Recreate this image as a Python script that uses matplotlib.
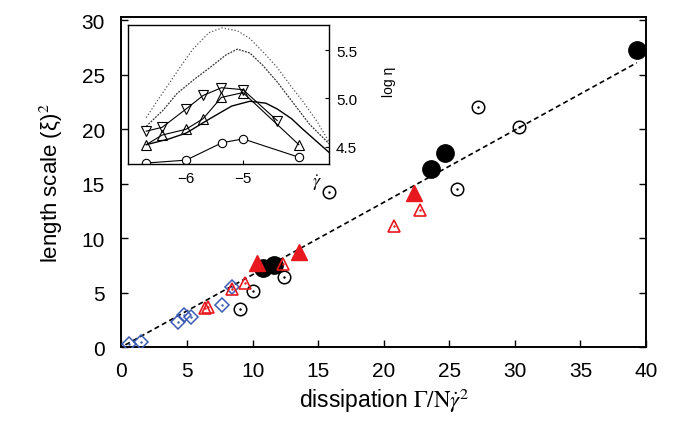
import numpy as np
import matplotlib
matplotlib.use('Agg')
import matplotlib.pyplot as plt

plt.rcParams['font.family'] = ['Liberation Sans', 'DejaVu Sans']
plt.rcParams['mathtext.fontset'] = 'stix'

# main panel data
blk_full_x = [10.8, 11.6, 23.6, 24.7, 39.3]
blk_full_y = [7.3, 7.5, 16.3, 17.8, 27.3]

blk_open_x = [9.0, 10.0, 12.4, 15.8, 25.6, 27.2, 30.3]
blk_open_y = [3.5, 5.1, 6.4, 14.2, 14.5, 22.0, 20.2]

red_full_x = [10.3, 13.5, 22.3]
red_full_y = [7.7, 8.7, 14.1]

red_open_x = [6.4, 6.6, 8.4, 9.4, 12.3, 20.8, 22.8]
red_open_y = [3.6, 3.7, 5.3, 5.9, 7.6, 11.1, 12.6]

blue_x = [0.6, 1.5, 4.3, 4.8, 5.3, 7.7, 8.4]
blue_y = [0.3, 0.5, 2.3, 2.9, 2.8, 3.9, 5.5]

fit_x = [0.3, 39.3]
fit_y = [0.2, 26.1]

# inset data (log gamma-dot vs log eta)
circ_x = [-6.70, -6.00, -5.37, -5.00, -4.02]
circ_y = [4.33, 4.36, 4.54, 4.58, 4.39]

dtri_x = [-6.70, -6.42, -6.00, -5.70, -5.38, -5.00, -4.40]
dtri_y = [4.66, 4.70, 4.89, 5.03, 5.11, 5.09, 4.77]

utri_x = [-6.70, -6.42, -6.00, -5.70, -5.38, -5.00, -4.02]
utri_y = [4.52, 4.62, 4.68, 4.79, 5.01, 5.06, 4.52]

solid_x = [-6.70, -6.30, -6.00, -5.58, -5.20, -4.88, -4.60, -4.40, -4.15, -3.95, -3.70, -3.49]
solid_y = [4.52, 4.58, 4.64, 4.79, 4.92, 4.97, 4.95, 4.89, 4.79, 4.68, 4.55, 4.44]

dash_x = [-6.70, -6.40, -6.16, -5.85, -5.58, -5.30, -5.10, -4.88, -4.65, -4.40, -4.18, -3.83, -3.49]
dash_y = [4.71, 4.88, 5.05, 5.20, 5.32, 5.45, 5.51, 5.47, 5.34, 5.17, 5.00, 4.73, 4.53]

dot_x = [-6.70, -6.50, -6.28, -6.05, -5.88, -5.60, -5.37, -5.10, -4.88, -4.60, -4.40, -4.15, -3.95, -3.70, -3.49]
dot_y = [4.80, 4.98, 5.17, 5.37, 5.51, 5.68, 5.73, 5.70, 5.62, 5.45, 5.32, 5.12, 4.97, 4.76, 4.55]

red = '#e8191e'
blue = '#3c5cb4'

fig = plt.figure(figsize=(6.78, 4.27), dpi=100)
ax = fig.add_axes([0.1792, 0.185, 0.7736, 0.7728])

ax.plot(fit_x, fit_y, '--', color='black', lw=1.2, dashes=(3, 2), zorder=2)

ax.plot(blue_x, blue_y, 'D', ms=7, mfc='none', mec=blue, mew=1.1, ls='none', zorder=3)
ax.plot(blue_x, blue_y, '.', ms=1.5, color=blue, ls='none', zorder=3)

ax.plot(blk_open_x, blk_open_y, 'o', ms=9, mfc='none', mec='black', mew=1.1, ls='none', zorder=3)
ax.plot(blk_open_x, blk_open_y, '.', ms=1.5, color='black', ls='none', zorder=3)

ax.plot(blk_full_x, blk_full_y, 'o', ms=12.5, color='black', ls='none', zorder=4)

ax.plot(red_full_x, red_full_y, '^', ms=12, color=red, ls='none', zorder=5)

ax.plot(red_open_x, red_open_y, '^', ms=9, mfc='none', mec=red, mew=1.2, ls='none', zorder=6)
ax.plot(red_open_x, red_open_y, '.', ms=1.5, color=red, ls='none', zorder=6)

ax.set_xlim(0, 40)
ax.set_ylim(0, 30.3)
ax.set_xticks(np.arange(0, 41, 5))
ax.set_yticks(np.arange(0, 31, 5))
ax.tick_params(direction='in', length=5, width=1, labelsize=15, top=False, right=True)
ax.tick_params(axis='x', pad=10)
ax.tick_params(axis='y', pad=12)
for s in ax.spines.values():
    s.set_linewidth(1.4)
ax.set_xlabel(r'dissipation $\Gamma/\mathrm{N}\dot{\gamma}^2$', fontsize=16.5, labelpad=4)
ax.set_ylabel('length scale (ξ)$^2$', fontsize=16, labelpad=12)

# inset
axi = fig.add_axes([0.1888, 0.6136, 0.2965, 0.3255])
axi.plot(dot_x, dot_y, ':', color='#555555', lw=0.9)
axi.plot(dash_x, dash_y, '--', color='#333333', lw=0.9, dashes=(1.5, 1))
axi.plot(solid_x, solid_y, '-', color='black', lw=1.0)
axi.plot(circ_x, circ_y, '-o', color='black', lw=0.8, ms=6, mfc='white', mew=0.8)
axi.plot(utri_x, utri_y, '-^', color='black', lw=0.8, ms=6.5, mfc='none', mew=0.8)
axi.plot(dtri_x, dtri_y, '-v', color='black', lw=0.8, ms=6.5, mfc='none', mew=0.8)
axi.set_xlim(-7.02, -3.49)
axi.set_ylim(4.32, 5.76)
axi.set_xticks([-6, -5])
axi.set_yticks([4.5, 5.0, 5.5])
axi.set_yticklabels(['4.5', '5.0', '5.5'])
axi.yaxis.tick_right()
axi.tick_params(direction='in', length=3, width=0.8, labelsize=11, right=True, left=False, pad=5)
for s in axi.spines.values():
    s.set_linewidth(1.0)
axi.text(0.94, -0.13, r'$\dot{\gamma}$', transform=axi.transAxes, fontsize=13, ha='center', va='center')
axi.text(1.30, 0.60, 'log η', transform=axi.transAxes, fontsize=10, rotation=90, ha='center', va='center')

fig.savefig('out.png', dpi=100)
